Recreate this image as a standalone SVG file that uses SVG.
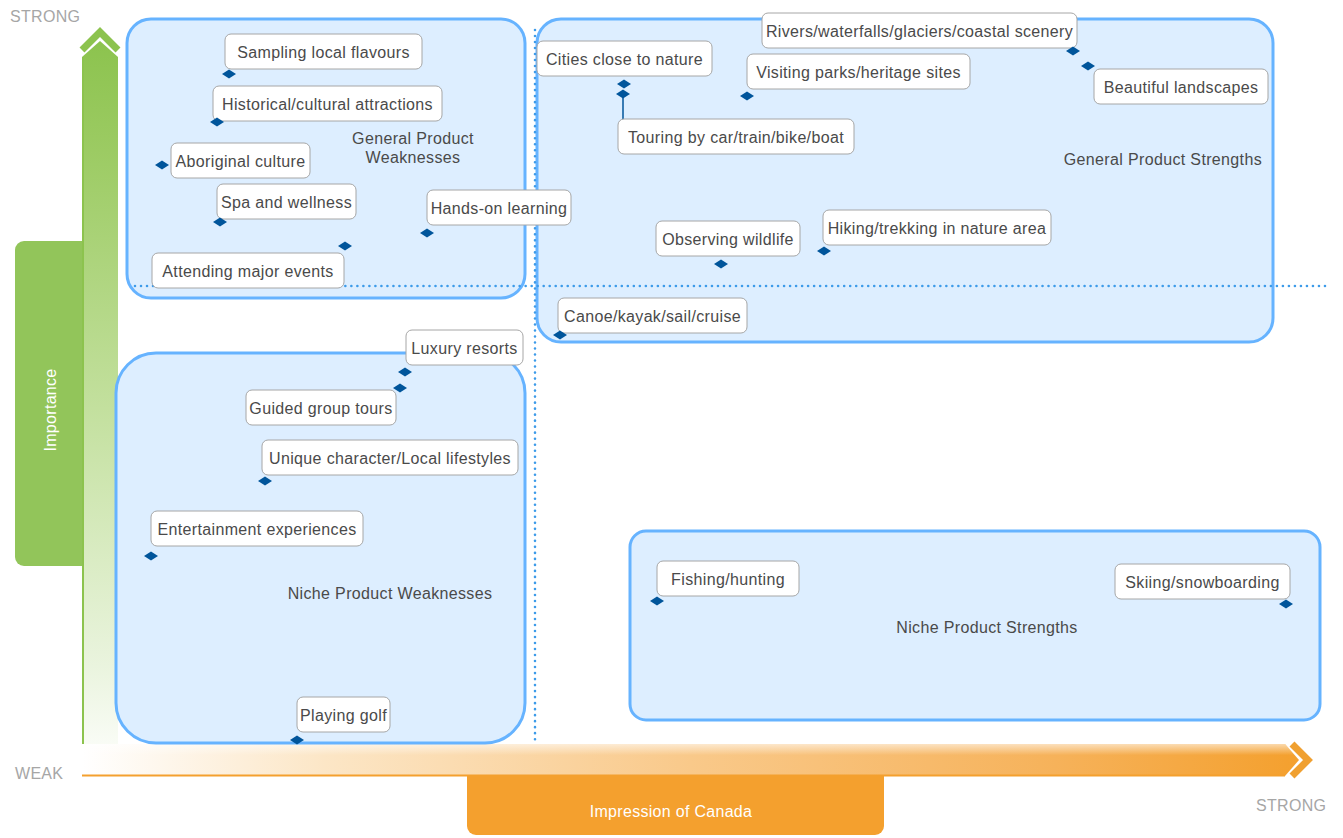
<svg xmlns="http://www.w3.org/2000/svg" xmlns:xlink="http://www.w3.org/1999/xlink" width="1343" height="838" viewBox="0 0 1343 838">
<defs>
<linearGradient id="gGreen" x1="0" y1="0" x2="0" y2="1">
<stop offset="0" stop-color="#8cc34e"/>
<stop offset="0.15" stop-color="#9ccb63"/>
<stop offset="0.5" stop-color="#c3e09e"/>
<stop offset="0.85" stop-color="#eaf4de"/>
<stop offset="1" stop-color="#ffffff"/>
</linearGradient>
<linearGradient id="gOrange" x1="0" y1="0" x2="1" y2="0">
<stop offset="0" stop-color="#ffffff"/>
<stop offset="0.2" stop-color="#fce6c6"/>
<stop offset="0.5" stop-color="#f9c98a"/>
<stop offset="0.8" stop-color="#f6b25a"/>
<stop offset="1" stop-color="#f4a02e"/>
</linearGradient>
<linearGradient id="gOrangeV" x1="0" y1="0" x2="0" y2="1">
<stop offset="0" stop-color="#ffffff" stop-opacity="0.6"/>
<stop offset="0.35" stop-color="#ffffff" stop-opacity="0"/>
<stop offset="1" stop-color="#ffffff" stop-opacity="0"/>
</linearGradient>
<path id="dia" d="M-7 0 L0 -4.5 L7 0 L0 4.5 Z" fill="#00559b"/>
<style>
.zone{fill:#ddeeff;stroke:#66b3ff;stroke-width:3}
.lbl rect{fill:#ffffff;stroke:#a6a6a6;stroke-width:1}
.lbl text,.zt{font-family:"Liberation Sans",Arial,sans-serif;font-size:16px;letter-spacing:0.35px;fill:#4a4a4a}
.lbl text{text-anchor:middle}
.dot{stroke:#3d9be9;stroke-width:2.6;stroke-dasharray:0.01 6;stroke-linecap:round;fill:none}
.ax{font-family:"Liberation Sans",Arial,sans-serif;font-size:16px;letter-spacing:0.3px;fill:#a6a6a6}
.wt{font-family:"Liberation Sans",Arial,sans-serif;font-size:16px;letter-spacing:0.3px;fill:#ffffff}
</style>
</defs>

<g id="axes">
<rect x="15" y="241" width="80" height="325" rx="9" fill="#92c55a"/>
<text class="wt" transform="translate(56,410) rotate(-90)" text-anchor="middle">Importance</text>
<rect x="467" y="760" width="417" height="75" rx="9" fill="#f4a02e"/>
<text class="wt" x="671" y="817" text-anchor="middle">Impression of Canada</text>
<polygon points="82,776 82,57 100,41 118,57 118,776" fill="url(#gGreen)"/>
<line x1="83" y1="57" x2="83" y2="776" stroke="#8cc34e" stroke-width="2"/>
<polyline points="82,50 100,32 118,50" fill="none" stroke="#8cc34e" stroke-width="7" stroke-linejoin="miter"/>
<polygon points="82,744 1285,744 1299,760 1285,776 82,776" fill="url(#gOrange)"/>
<polygon points="82,744 1285,744 1299,760 1285,776 82,776" fill="url(#gOrangeV)"/>
<line x1="82" y1="775.5" x2="1285" y2="775.5" stroke="#f4a02e" stroke-width="2"/>
<polyline points="1292,744 1308,760 1292,776" fill="none" stroke="#f0a030" stroke-width="7" stroke-linejoin="miter"/>
<text class="ax" x="10" y="22">STRONG</text>
<text class="ax" x="15" y="779">WEAK</text>
<text class="ax" x="1256" y="811">STRONG</text>
</g>

<g id="zone-gpw"><rect class="zone" x="127" y="19" width="398" height="279" rx="24"/>
<text class="zt" x="413" y="144" text-anchor="middle">General Product</text>
<text class="zt" x="413" y="163" text-anchor="middle">Weaknesses</text></g>
<g id="zone-gps"><rect class="zone" x="537" y="19" width="736" height="323" rx="24"/>
<text class="zt" x="1262" y="165" text-anchor="end">General Product Strengths</text></g>
<g id="zone-npw"><rect class="zone" x="116" y="353" width="409" height="390" rx="40"/>
<text class="zt" x="390" y="599" text-anchor="middle">Niche Product Weaknesses</text></g>
<g id="zone-nps"><rect class="zone" x="630" y="531" width="690" height="189" rx="16"/>
<text class="zt" x="987" y="633" text-anchor="middle">Niche Product Strengths</text></g>

<g id="connectors">
<line class="dot" x1="135" y1="286" x2="1330" y2="286"/>
<line class="dot" x1="535" y1="30" x2="535" y2="745"/>
<line x1="623" y1="94" x2="623" y2="122" stroke="#00559b" stroke-width="1.5"/>
</g>

<g id="n-sampling" class="lbl"><rect x="225" y="34" width="197" height="35" rx="6"/><text x="323.5" y="57.5">Sampling local flavours</text><use xlink:href="#dia" x="229" y="74"/></g>
<g id="n-historical" class="lbl"><rect x="213" y="86" width="229" height="35" rx="6"/><text x="327.5" y="109.5">Historical/cultural attractions</text><use xlink:href="#dia" x="217" y="122"/></g>
<g id="n-aboriginal" class="lbl"><rect x="171" y="143" width="139" height="35" rx="6"/><text x="240.5" y="166.5">Aboriginal culture</text><use xlink:href="#dia" x="162" y="165"/></g>
<g id="n-spa" class="lbl"><rect x="217" y="184" width="139" height="35" rx="6"/><text x="286.5" y="207.5">Spa and wellness</text><use xlink:href="#dia" x="220" y="222"/></g>
<g id="n-hands" class="lbl"><rect x="427" y="190" width="144" height="35" rx="6"/><text x="499" y="213.5">Hands-on learning</text><use xlink:href="#dia" x="427" y="233"/></g>
<g id="n-events" class="lbl"><rect x="152" y="253" width="192" height="35" rx="6"/><text x="248" y="276.5">Attending major events</text><use xlink:href="#dia" x="345" y="246"/></g>

<g id="n-cities" class="lbl"><rect x="537" y="41" width="175" height="35" rx="6"/><text x="624.5" y="64.5">Cities close to nature</text><use xlink:href="#dia" x="624" y="84"/></g>
<g id="n-touring" class="lbl"><use xlink:href="#dia" x="623" y="94"/><rect x="618" y="119" width="236" height="35" rx="6"/><text x="736" y="142.5">Touring by car/train/bike/boat</text></g>
<g id="n-parks" class="lbl"><rect x="747" y="54" width="223" height="35" rx="6"/><text x="858.5" y="77.5">Visiting parks/heritage sites</text><use xlink:href="#dia" x="747" y="96"/></g>
<g id="n-rivers" class="lbl"><rect x="762" y="13" width="315" height="35" rx="6"/><text x="919.5" y="36.5">Rivers/waterfalls/glaciers/coastal scenery</text><use xlink:href="#dia" x="1073" y="51"/></g>
<g id="n-landscapes" class="lbl"><rect x="1094" y="69" width="174" height="35" rx="6"/><text x="1181" y="92.5">Beautiful landscapes</text><use xlink:href="#dia" x="1088" y="66"/></g>
<g id="n-wildlife" class="lbl"><rect x="656" y="221" width="144" height="35" rx="6"/><text x="728" y="244.5">Observing wildlife</text><use xlink:href="#dia" x="721" y="264"/></g>
<g id="n-hiking" class="lbl"><rect x="823" y="210" width="228" height="35" rx="6"/><text x="937" y="233.5">Hiking/trekking in nature area</text><use xlink:href="#dia" x="824" y="251"/></g>
<g id="n-canoe" class="lbl"><rect x="558" y="298" width="189" height="35" rx="6"/><text x="652.5" y="321.5">Canoe/kayak/sail/cruise</text><use xlink:href="#dia" x="560" y="335"/></g>

<g id="n-luxury" class="lbl"><rect x="406" y="330" width="117" height="35" rx="6"/><text x="464.5" y="353.5">Luxury resorts</text><use xlink:href="#dia" x="405" y="372"/></g>
<g id="n-guided" class="lbl"><use xlink:href="#dia" x="400" y="388"/><rect x="246" y="390" width="150" height="35" rx="6"/><text x="321" y="413.5">Guided group tours</text></g>
<g id="n-unique" class="lbl"><rect x="262" y="440" width="256" height="35" rx="6"/><text x="390" y="463.5">Unique character/Local lifestyles</text><use xlink:href="#dia" x="265" y="481"/></g>
<g id="n-entertainment" class="lbl"><rect x="151" y="511" width="212" height="35" rx="6"/><text x="257" y="534.5">Entertainment experiences</text><use xlink:href="#dia" x="151" y="556"/></g>
<g id="n-golf" class="lbl"><rect x="297" y="697" width="93" height="35" rx="6"/><text x="343.5" y="720.5">Playing golf</text><use xlink:href="#dia" x="297" y="740"/></g>

<g id="n-fishing" class="lbl"><rect x="657" y="561" width="142" height="35" rx="6"/><text x="728" y="584.5">Fishing/hunting</text><use xlink:href="#dia" x="657" y="601"/></g>
<g id="n-skiing" class="lbl"><rect x="1115" y="564" width="175" height="35" rx="6"/><text x="1202.5" y="587.5">Skiing/snowboarding</text><use xlink:href="#dia" x="1286" y="604"/></g>
</svg>
